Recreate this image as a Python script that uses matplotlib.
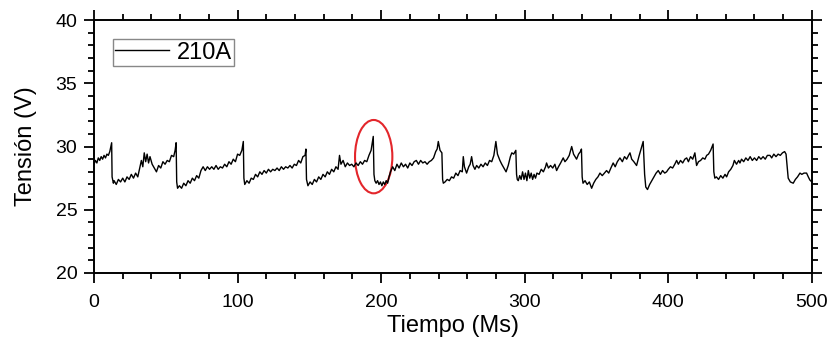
import numpy as np
import matplotlib
matplotlib.use('Agg')
import matplotlib.pyplot as plt
import matplotlib.ticker as mticker
from matplotlib.patches import Ellipse

plt.rcParams['font.family'] = ['Liberation Sans', 'DejaVu Sans']

# Tension de arco 210A
tiempo = [
    0, 1, 2, 3, 4, 5, 6, 7, 8, 9, 10, 11, 12.3, 12.6, 13.5,
    14, 15.5, 17, 18.5, 20, 21.5, 23, 24.5, 26, 27.5, 29, 30.5, 32, 33, 34, 35, 36, 37, 38, 39,
    40.5, 42, 43.5, 45, 46.5, 48, 49.5, 51, 52.5, 54, 55.5, 56.5, 57.2, 57.6, 58.2,
    59.5, 61, 62.5, 64, 65.5, 67, 68.5, 70, 71.5, 73, 74.5, 76, 77.5, 79, 80.5, 82, 83.5, 85,
    86.5, 88, 89.5, 91, 92.5, 94, 95.5, 97, 98.5, 100, 101.5, 103, 104, 104.4, 105,
    106.5, 108, 109.5, 111, 112.5, 114, 115.5, 117, 118.5, 120, 121.5, 123, 124.5, 126, 127.5,
    129, 130.5, 132, 133.5, 135, 136.5, 138, 139.5, 141, 142.5, 144, 145.5, 147, 147.6, 148, 149,
    150.5, 152, 153.5, 155, 156.5, 158, 159.5, 161, 162.5, 164, 165.5, 167, 168.5, 170, 171, 172,
    173.5, 175, 176.5, 178, 179.5, 181, 182.5, 184, 185.5, 187, 188.5, 190, 191.5, 193, 194.5,
    195, 195.6,
    196.5, 197.5, 198.5, 199.5, 200.5, 201.5, 202.5, 203.5, 204.5, 205.5, 206.5, 208, 209.5, 211,
    212.5, 214, 215.5, 217, 218.5, 220, 221.5, 223, 224.5, 226, 227.5, 229, 230.5, 232, 233.5,
    235, 236.5, 238, 239, 239.8, 241, 242.3, 242.8, 243.3,
    244.5, 246, 247.5, 249, 250.5, 252, 253.5, 255, 256.5, 257.2, 258, 259.5, 261, 262, 263, 264,
    265.3, 266.5, 268, 269.5, 271, 272.5, 274, 275.5, 277, 278.5, 279.9, 281, 282.7, 284, 285.5,
    287, 288.5, 290, 291, 292.3, 293.8, 294.3, 294.8,
    295.5, 296.5, 297.5, 298.5, 299.5, 300.5, 301.5, 302.5, 303.5, 304.5, 305.5, 306.5, 307.5,
    308.5, 310, 311.5, 313, 314.5, 315.2, 316.5, 318, 319.5, 321, 322.2, 323.5, 325, 326.8, 328,
    329.5, 331, 332.7, 334, 336.1, 337.5, 338.8, 339.5, 340, 340.6,
    342, 343.5, 345, 346.6, 348, 349.5, 351, 352.4, 354, 355.5, 357, 358.5, 360, 361.6, 363,
    364.5, 366.3, 368, 369.5, 371, 372.3, 373.3, 374.5, 376, 377.9, 379.5, 381, 382.5, 383.5, 384.3,
    385.5, 387, 388.5, 390, 391.5, 393, 394.5, 396, 397.5, 398.8, 400, 401.5, 403, 404.5, 405.8,
    407, 408.5, 410, 411.5, 412.8, 414, 415.5, 417, 418.5, 419.7, 421, 422.5, 424, 425.5, 426.7,
    428, 429.5, 431.2, 431.7, 432.4,
    433.5, 435, 436.5, 438, 439.5, 440.6, 442, 443.5, 445, 446, 447.5, 449, 449.9, 451, 452.5,
    454, 455.5, 457, 458.5, 460, 461.5, 463, 464.5, 466, 467.5, 469, 470.8, 472, 473.5, 475,
    476.5, 478, 479.5, 481, 482, 483.5,
    485, 487, 488.5, 490, 491.7, 493, 494.5, 496.3, 497.5, 498.6, 500,
]
tension = [
    28.6, 28.9, 28.7, 29.1, 28.9, 29.2, 29.0, 29.3, 29.1, 29.4, 29.3, 29.6, 30.3, 27.6, 27.1,
    27.3, 27.0, 27.4, 27.2, 27.5, 27.2, 27.6, 27.4, 27.8, 27.5, 27.9, 27.6, 28.4, 28.9, 28.4, 29.5, 28.8, 29.4, 28.7, 29.2,
    28.6, 28.3, 28.0, 28.5, 28.3, 28.8, 28.6, 28.9, 28.8, 29.3, 29.2, 29.7, 30.3, 27.2, 26.7,
    26.9, 26.7, 27.1, 26.9, 27.3, 27.1, 27.5, 27.3, 27.7, 27.5, 28.1, 28.4, 28.1, 28.4, 28.2, 28.4, 28.2, 28.5,
    28.2, 28.4, 28.3, 28.6, 28.4, 28.8, 28.6, 29.0, 28.8, 29.4, 29.3, 29.7, 30.4, 27.5, 27.0,
    27.3, 27.1, 27.5, 27.4, 27.8, 27.6, 28.0, 27.8, 28.1, 27.9, 28.2, 28.0, 28.2, 28.1, 28.3,
    28.1, 28.4, 28.2, 28.4, 28.3, 28.5, 28.3, 28.6, 28.5, 28.9, 28.7, 29.2, 29.3, 29.8, 27.4, 26.9,
    27.2, 27.0, 27.4, 27.2, 27.6, 27.4, 27.8, 27.6, 28.0, 27.8, 28.2, 28.0, 28.4, 28.2, 29.3, 28.6,
    28.9, 28.4, 28.7, 28.5, 28.6, 28.4, 28.7, 28.5, 28.8, 28.6, 28.9, 28.8, 29.3, 29.7, 30.8,
    27.8, 27.3,
    27.1, 27.3, 27.0, 27.2, 26.9, 27.2, 27.0, 27.3, 27.1, 27.6, 28.0, 28.4, 28.1, 28.6,
    28.3, 28.7, 28.4, 28.6, 28.3, 28.7, 28.5, 28.8, 28.9, 28.6, 28.9, 28.7, 28.8, 28.6, 28.8,
    28.9, 29.1, 29.6, 29.8, 30.4, 29.7, 29.5, 27.4, 27.1,
    27.2, 27.4, 27.3, 27.6, 27.5, 27.9, 27.7, 28.1, 28.0, 29.2, 28.4, 27.9, 28.4, 28.6, 29.2, 28.5,
    28.2, 28.5, 28.3, 28.6, 28.4, 28.7, 28.5, 28.9, 28.8, 29.3, 30.4, 29.4, 28.9, 28.6, 28.3,
    28.0, 28.5, 29.2, 29.5, 29.4, 29.7, 27.8, 27.4,
    27.3, 27.7, 27.4, 28.0, 27.4, 27.9, 27.3, 28.1, 27.5, 27.9, 27.4, 27.8, 27.5,
    27.9, 27.8, 28.2, 28.0, 28.4, 28.7, 28.3, 28.5, 28.3, 28.6, 28.1, 28.4, 28.7, 29.1, 28.8,
    29.0, 29.3, 30.0, 29.4, 29.0, 29.4, 29.6, 29.8, 27.6, 27.1,
    27.3, 27.0, 27.2, 26.7, 27.1, 27.4, 27.6, 27.9, 27.7, 27.9, 28.1, 27.9, 28.3, 28.7, 28.4,
    28.8, 29.1, 28.8, 29.2, 29.0, 29.3, 29.5, 29.0, 28.8, 28.5, 29.2, 29.8, 30.4, 27.8, 26.8,
    26.6, 27.0, 27.3, 27.6, 27.9, 28.1, 27.8, 28.1, 27.9, 28.0, 28.2, 28.4, 28.3, 28.6, 28.9,
    28.6, 28.9, 28.7, 29.0, 29.1, 28.8, 29.2, 29.0, 29.5, 28.5, 28.8, 28.9, 29.1, 29.0, 29.3,
    29.4, 29.7, 30.2, 28.0, 27.5,
    27.6, 27.4, 27.7, 27.5, 27.8, 27.6, 28.0, 28.2, 28.5, 28.9, 28.6, 28.9, 28.7, 29.0, 28.8,
    29.1, 28.9, 29.2, 28.9, 29.1, 28.9, 29.2, 29.0, 29.2, 29.0, 29.3, 29.3, 29.1, 29.4, 29.2,
    29.4, 29.3, 29.5, 29.6, 29.4, 27.5,
    27.2, 27.1, 27.4, 27.6, 27.9, 27.8, 27.9, 27.9, 27.6, 27.35, 27.2,
]

# circulo rojo marcando el pico
circ_x, circ_y = 194.8, 29.2
circ_w, circ_h = 26.0, 5.8

fig, ax = plt.subplots(figsize=(8.37, 3.46), dpi=100)
fig.subplots_adjust(left=0.1123, right=0.970, bottom=0.211, top=0.942)

ax.plot(tiempo, tension, color='black', lw=1.0, label='210A')

ax.add_patch(Ellipse((circ_x, circ_y), circ_w, circ_h,
                     fill=False, edgecolor='#e3262b', lw=1.5))

ax.set_xlim(0, 500)
ax.set_ylim(20, 40)
ax.xaxis.set_major_locator(mticker.MultipleLocator(100))
ax.xaxis.set_minor_locator(mticker.MultipleLocator(20))
ax.yaxis.set_major_locator(mticker.MultipleLocator(5))
ax.yaxis.set_minor_locator(mticker.MultipleLocator(1))

ax.tick_params(which='both', direction='out', top=True, right=True,
               width=1.3, labelsize=14)
ax.tick_params(which='major', length=7)
ax.tick_params(which='minor', length=4)
ax.tick_params(axis='x', which='both', pad=8)
ax.tick_params(axis='y', which='both', pad=5)
for s in ax.spines.values():
    s.set_linewidth(1.4)

ax.set_xlabel('Tiempo (Ms)', fontsize=17, labelpad=3)
ax.set_ylabel('Tensión (V)', fontsize=17, labelpad=13)

ax.legend(loc='upper left', bbox_to_anchor=(0.026, 0.924), borderaxespad=0,
          fontsize=17, handlelength=2.3, handletextpad=0.3, borderpad=0.1,
          fancybox=False, edgecolor='#888888', framealpha=1)

fig.savefig('out.png', dpi=100)
